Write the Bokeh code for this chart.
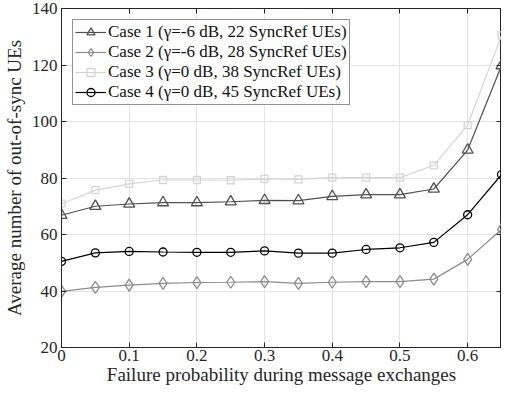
from bokeh.plotting import figure
from bokeh.models import LinearAxis, Range1d, Legend, LegendItem, FixedTicker, CustomJSTickFormatter
from bokeh.embed import file_html
from bokeh.resources import INLINE

x = [0, 0.05, 0.1, 0.15, 0.2, 0.25, 0.3, 0.35, 0.4, 0.45, 0.5, 0.55, 0.6, 0.65]
case1 = [66.8, 70.0, 70.8, 71.3, 71.3, 71.6, 72.1, 72.0, 73.5, 74.1, 74.1, 76.1, 89.9, 119.8]
case2 = [39.9, 41.3, 42.1, 42.7, 43.0, 43.1, 43.3, 42.7, 43.1, 43.3, 43.3, 44.2, 51.2, 61.8]
case3 = [70.9, 75.7, 77.9, 79.3, 79.3, 79.2, 79.7, 79.5, 80.1, 80.1, 80.1, 84.5, 98.7, 130.5]
case4 = [50.5, 53.5, 54.0, 53.8, 53.7, 53.7, 54.2, 53.4, 53.4, 54.7, 55.3, 57.2, 67.0, 81.2]
labels = ["Case 1 (\u03b3=-6 dB, 22 SyncRef UEs)",
          "Case 2 (\u03b3=-6 dB, 28 SyncRef UEs)",
          "Case 3 (\u03b3=0 dB, 38 SyncRef UEs)",
          "Case 4 (\u03b3=0 dB, 45 SyncRef UEs)"]
xticks = [0, 0.1, 0.2, 0.3, 0.4, 0.5, 0.6]
yticks = [20, 40, 60, 80, 100, 120, 140]

F = "Liberation Serif"
p = figure(width=501, height=387, output_backend="svg", toolbar_location=None,
           x_range=Range1d(0, 0.65), y_range=Range1d(20, 140),
           min_border_left=58, min_border_right=0, min_border_top=8, min_border_bottom=0)
p.outline_line_color = "#262626"
p.outline_line_width = 1
p.background_fill_color = "white"

for ax in p.axis:
    ax.major_label_text_font = F
    ax.major_label_text_font_size = "17px"
    ax.major_label_text_color = "#262626"
    ax.axis_label_text_font = F
    ax.axis_label_text_font_size = "19px"
    ax.axis_label_text_font_style = "normal"
    ax.axis_label_text_color = "#262626"
    ax.axis_line_color = "#262626"
    ax.major_tick_line_color = "#262626"
    ax.major_tick_in = 5
    ax.major_tick_out = 0
    ax.minor_tick_line_color = None
p.xaxis.ticker = FixedTicker(ticks=xticks)
p.yaxis.ticker = FixedTicker(ticks=yticks)
p.xaxis.axis_label = "Failure probability during message exchanges"
p.yaxis.axis_label = "Average number of out-of-sync UEs"
p.xaxis.major_label_standoff = 2
p.yaxis.major_label_standoff = 4
p.xaxis.axis_label_standoff = 0
p.yaxis.axis_label_standoff = 4

blank = CustomJSTickFormatter(code="return ''")
for loc, tk in (("right", yticks), ("above", xticks)):
    a = LinearAxis(ticker=FixedTicker(ticks=tk), formatter=blank,
                   major_tick_in=5, major_tick_out=0, minor_tick_line_color=None,
                   axis_line_color="#262626", major_tick_line_color="#262626",
                   major_label_standoff=0, major_label_text_font_size="2px")
    p.add_layout(a, loc)

p.grid.grid_line_color = "#e3e3e3"
p.xgrid.ticker = FixedTicker(ticks=xticks)
p.ygrid.ticker = FixedTicker(ticks=yticks)

c1 = "#505050"; c2 = "#8c8c8c"; c3 = "#d4d4d4"; c4 = "#000000"
items = []
r = p.line(x, case1, line_color=c1, line_width=1.2)
m = p.scatter(x, case1, marker="triangle", size=11, line_color=c1, fill_color=None, line_width=1.3)
items.append(LegendItem(label=labels[0], renderers=[r, m]))
r = p.line(x, case2, line_color=c2, line_width=1.2)
m = p.scatter(x, case2, marker="diamond", size=12, line_color=c2, fill_color=None, line_width=1.3)
items.append(LegendItem(label=labels[1], renderers=[r, m]))
r = p.line(x, case3, line_color=c3, line_width=1.2)
m = p.scatter(x, case3, marker="square", size=7, line_color=c3, fill_color=None, line_width=1.3)
items.append(LegendItem(label=labels[2], renderers=[r, m]))
r = p.line(x, case4, line_color=c4, line_width=1.2)
m = p.scatter(x, case4, marker="circle", size=8, line_color=c4, fill_color=None, line_width=1.3)
items.append(LegendItem(label=labels[3], renderers=[r, m]))

leg = Legend(items=items, location="top_left", label_text_font=F, label_text_font_size="17px",
             label_text_color="#111111", border_line_color="#262626", border_line_width=1,
             background_fill_alpha=1, padding=2, spacing=0, margin=11,
             glyph_width=31, glyph_height=20, label_standoff=2, label_height=20)
p.add_layout(leg)

open("out.html", "w").write(file_html(p, INLINE))
